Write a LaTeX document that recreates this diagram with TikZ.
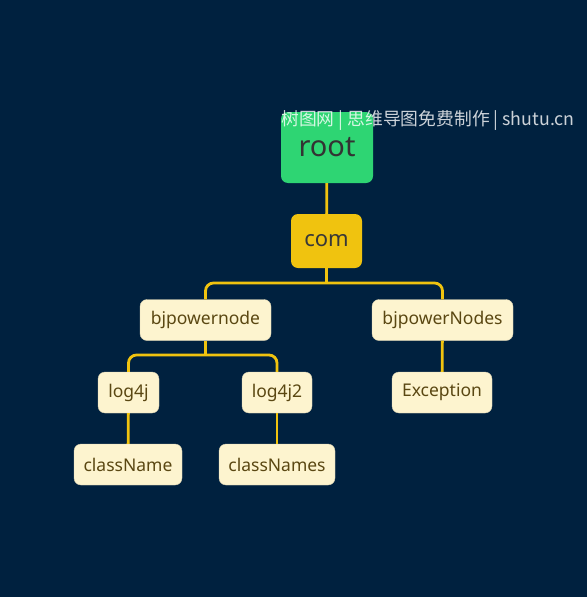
\documentclass[tikz,border=0pt]{standalone}
\usepackage{fontspec}
\setmainfont{Noto Sans}
\newfontfamily\cjkfont{Noto Sans CJK SC}
\usetikzlibrary{positioning,calc}
\definecolor{navybg}{HTML}{00213F}
\definecolor{rootgreen}{HTML}{2ED573}
\definecolor{comgold}{HTML}{F0C30F}
\definecolor{leafcream}{HTML}{FDF4CF}
\definecolor{leaftext}{HTML}{5A4712}

\begin{document}
\begin{tikzpicture}[x=1pt, y=-1pt,
    box/.style={rectangle, rounded corners=7pt, minimum height=41pt, inner sep=0pt},
    leaf/.style={box, fill=leafcream, draw=leafcream!85!black, line width=0.4pt, text=leaftext, font=\fontsize{17.5}{19}\selectfont},
    link/.style={draw=comgold, line width=2.8pt}]
      % background
      \fill[navybg] (0,0) rectangle (587,597);
      \useasboundingbox (0,0) rectangle (587,597);

      % root and com
      \node[box, fill=rootgreen, text=black!80, minimum width=92pt, minimum height=71pt, font=\fontsize{29}{32}\selectfont] (root) at (327,147.5) {root};
      \node[box, fill=comgold, text=black!78, minimum width=71pt, minimum height=54pt, font=\fontsize{22}{24}\selectfont] (com) at (326.5,241) {com};

      % second level
      \node[leaf, minimum width=131pt] (bjpn) at (205.5,320) {bjpowernode};
      \node[leaf, minimum width=141pt] (bjpN) at (442.5,320) {bjpowerNodes};

      % third level
      \node[leaf, minimum width=61pt] (log) at (128.5,392.5) {log4j};
      \node[leaf, minimum width=70pt] (logtwo) at (277,392.5) {log4j2};
      \node[leaf, minimum width=100pt] (exc) at (442,392.5) {Exception};

      % fourth level
      \node[leaf, minimum width=108pt] (cls) at (128,464.5) {className};
      \node[leaf, minimum width=116pt] (clss) at (277,464.5) {classNames};

      % fork points
      \coordinate (comfork) at (326.5,283);
      \coordinate (bjpfork) at (205.5,355);

      % links
      \draw[link] (root) -- (com);
      \draw[link] (com) -- (comfork);
      \draw[link, rounded corners=8pt] (bjpn.north) |- (comfork) -| (bjpN.north);
      \draw[link] (bjpn) -- (bjpfork);
      \draw[link, rounded corners=8pt] (log.north) |- (bjpfork) -| (logtwo.north);
      \draw[link] (log) -- (cls);
      \draw[link] (logtwo) -- (clss);
      \draw[link] (bjpN) -- (exc);

      % watermark
      \node[text=white, opacity=0.8, font=\cjkfont\fontsize{17.8}{19}\selectfont, inner sep=0pt] (mark) at (428,120) {树图网 | 思维导图免费制作 | shutu.cn};
    \end{tikzpicture}
\end{document}
